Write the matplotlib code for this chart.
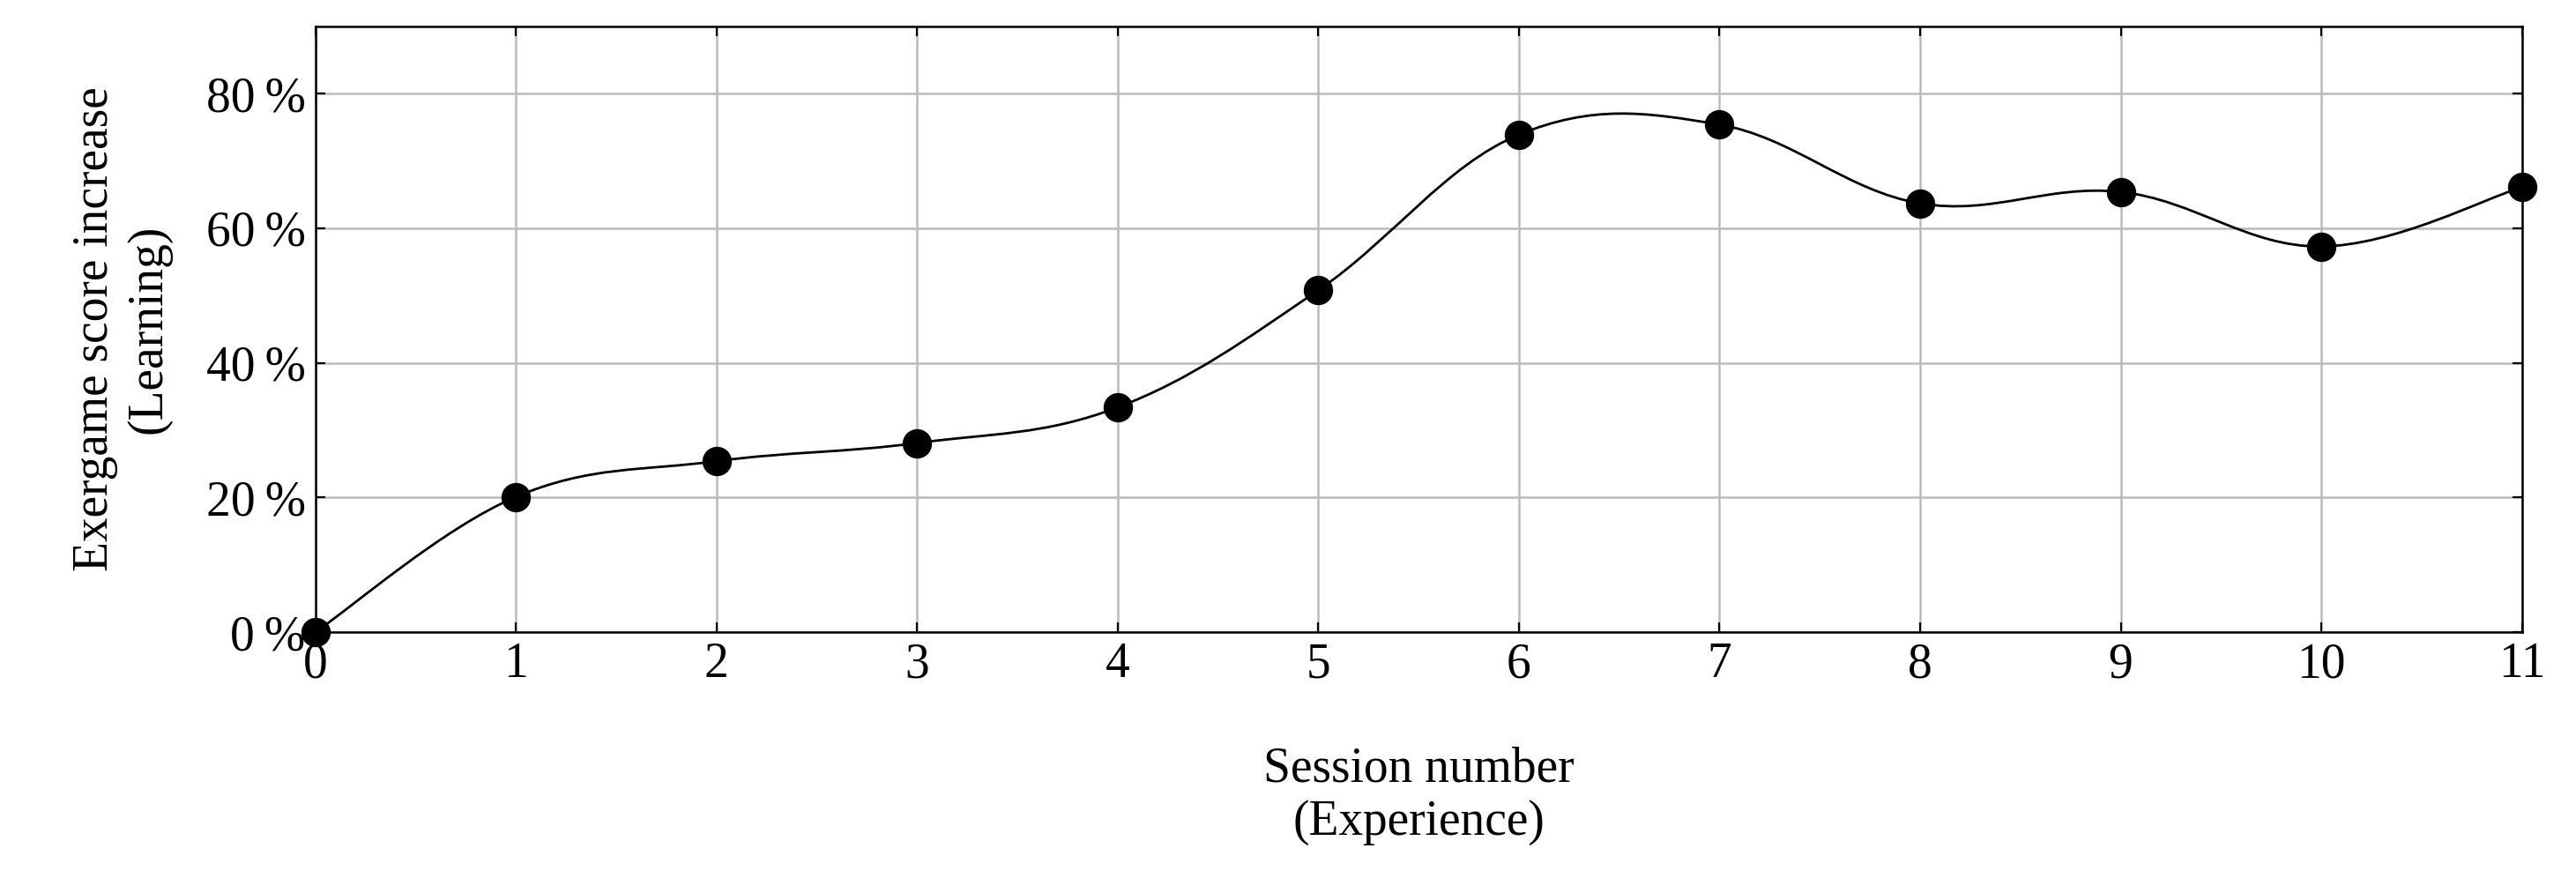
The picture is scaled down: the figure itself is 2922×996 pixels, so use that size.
import numpy as np
import matplotlib
matplotlib.use("Agg")
import matplotlib.pyplot as plt
from matplotlib.path import Path
from matplotlib.patches import PathPatch

# Session number vs. score increase (%)
sessions = [0, 1, 2, 3, 4, 5, 6, 7, 8, 9, 10, 11]
increase = [0.0, 20.1, 25.4, 28.1, 33.4, 50.8, 73.9, 75.4, 63.7, 65.4, 57.3, 66.1]
yticks = [0, 20, 40, 60, 80]

plt.rcParams['font.family'] = ['Liberation Serif', 'DejaVu Serif']
plt.rcParams['font.size'] = 20

fig = plt.figure(figsize=(14.61, 4.98), dpi=200)
ax = fig.add_axes([0.1224, 0.280, 0.8566, 0.690])

# smooth curve like pgfplots "smooth" (cubic bezier)
x = np.array(sessions, float)
y = np.array(increase, float)
t = 0.55 / 3
verts = [(x[0], y[0])]
codes = [Path.MOVETO]
for i in range(len(x) - 1):
    i0 = max(i - 1, 0)
    i3 = min(i + 2, len(x) - 1)
    c1 = (x[i] + t * (x[i + 1] - x[i0]), y[i] + t * (y[i + 1] - y[i0]))
    c2 = (x[i + 1] - t * (x[i3] - x[i]), y[i + 1] - t * (y[i3] - y[i]))
    verts += [c1, c2, (x[i + 1], y[i + 1])]
    codes += [Path.CURVE4] * 3
ax.add_patch(PathPatch(Path(verts, codes), fill=False, color='black', lw=1.0, zorder=3))
ax.plot(sessions, increase, 'o', color='black', markersize=11, zorder=4, clip_on=False)

ax.set_xlim(0, 11)
ax.set_ylim(0, 90)
ax.set_xticks(sessions)
ax.set_yticks(yticks)
ax.set_yticklabels([f"{v}\u2009%" for v in yticks])
ax.grid(True, color='#bbbbbb', lw=0.9)
ax.set_axisbelow(True)
ax.tick_params(direction='in', length=4, width=0.8, top=True, right=True, pad=4)
for s in ax.spines.values():
    s.set_linewidth(0.9)

ax.set_xlabel("Session number\n(Experience)", labelpad=24, linespacing=1.2)
ax.set_ylabel("Exergame score increase\n(Learning)", labelpad=14, linespacing=1.2)

fig.savefig("out.png", dpi=200)
